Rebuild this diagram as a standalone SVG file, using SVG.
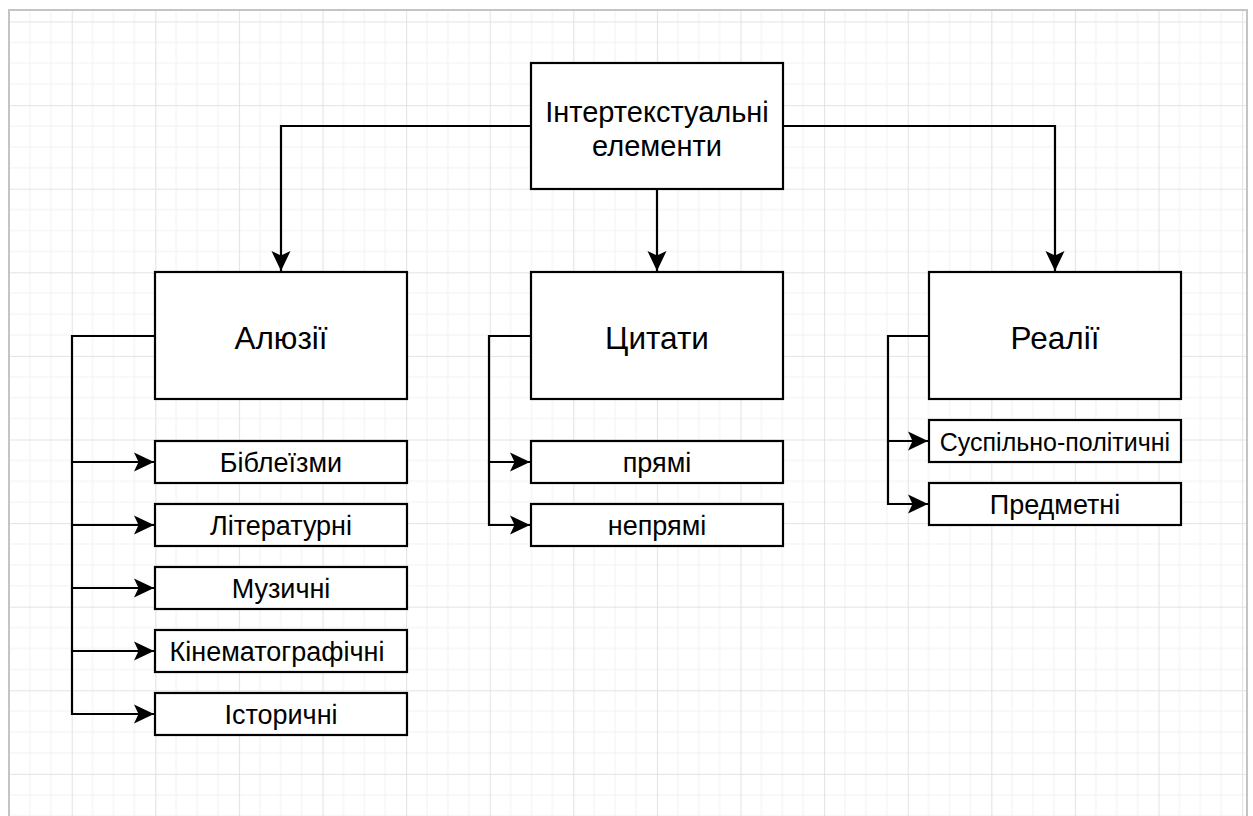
<svg xmlns="http://www.w3.org/2000/svg" width="1253" height="816" viewBox="0 0 1253 816">
<defs>
<pattern id="grid" patternUnits="userSpaceOnUse" x="71.7" y="21.5" width="83.6" height="83.6">
<path d="M20.9,0V83.6M41.8,0V83.6M62.7,0V83.6M0,20.9H83.6M0,41.8H83.6M0,62.7H83.6" stroke="#f2f2f2" stroke-width="1" fill="none"/>
<path d="M0.5,0V83.6M0,0.5H83.6" stroke="#e3e3e3" stroke-width="1.2" fill="none"/>
</pattern>
<marker id="arr" markerUnits="userSpaceOnUse" markerWidth="24" markerHeight="24" viewBox="-22 -12 24 24" refX="0" refY="0" orient="auto">
<path d="M0,0 L-20,-9.5 L-15.5,0 L-20,9.5 Z" fill="#000"/>
</marker>
<style>
.box{fill:#fff;stroke:#000;stroke-width:2.2}
.t{font-family:"Liberation Sans",Arial,sans-serif;fill:#000;text-anchor:middle;dominant-baseline:central}
.big{font-size:29px}
.mid{font-size:31.5px}
.sm{font-size:27px}
.c{fill:none;stroke:#000;stroke-width:2.2}
</style>
</defs>
<rect x="0" y="0" width="1253" height="816" fill="#fff"/>
<rect x="9" y="10" width="1238" height="810" fill="url(#grid)"/>
<rect x="9" y="10" width="1238" height="820" fill="none" stroke="#c4c4c4" stroke-width="2"/>

<g id="connectors">
<path class="c" d="M531,126H281V271" marker-end="url(#arr)"/>
<path class="c" d="M657,189V271" marker-end="url(#arr)"/>
<path class="c" d="M783,126H1055V271" marker-end="url(#arr)"/>
<path class="c" d="M155,336H72V462H154" marker-end="url(#arr)"/>
<path class="c" d="M72,462V525H154" marker-end="url(#arr)"/>
<path class="c" d="M72,525V588H154" marker-end="url(#arr)"/>
<path class="c" d="M72,588V651H154" marker-end="url(#arr)"/>
<path class="c" d="M72,651V714H154" marker-end="url(#arr)"/>
<path class="c" d="M531,336H489V462H530" marker-end="url(#arr)"/>
<path class="c" d="M489,462V525H530" marker-end="url(#arr)"/>
<path class="c" d="M929,336H888V441H928" marker-end="url(#arr)"/>
<path class="c" d="M888,441V504H928" marker-end="url(#arr)"/>
</g>

<g id="main"><rect class="box" x="531" y="63" width="252" height="126"/>
<text class="t big" x="657" y="112">Інтертекстуальні</text>
<text class="t big" x="657" y="146">елементи</text></g>

<g id="aliuzii"><rect class="box" x="155" y="272" width="252" height="127"/><text class="t mid" x="281" y="338">Алюзії</text></g>
<g id="tsytaty"><rect class="box" x="531" y="272" width="252" height="127"/><text class="t mid" x="657" y="338">Цитати</text></g>
<g id="realii"><rect class="box" x="929" y="272" width="252" height="127"/><text class="t mid" x="1055" y="338">Реалії</text></g>

<g id="bibl"><rect class="box" x="155" y="441" width="252" height="42"/><text class="t sm" x="281" y="463">Біблеїзми</text></g>
<g id="lit"><rect class="box" x="155" y="504" width="252" height="42"/><text class="t sm" x="281" y="526">Літературні</text></g>
<g id="muz"><rect class="box" x="155" y="567" width="252" height="42"/><text class="t sm" x="281" y="589">Музичні</text></g>
<g id="kino"><rect class="box" x="155" y="630" width="252" height="42"/><text class="t sm" x="277" y="652">Кінематографічні</text></g>
<g id="ist"><rect class="box" x="155" y="693" width="252" height="42"/><text class="t sm" x="281" y="715">Історичні</text></g>

<g id="priami"><rect class="box" x="531" y="441" width="252" height="42"/><text class="t sm" x="657" y="463">прямі</text></g>
<g id="nepriami"><rect class="box" x="531" y="504" width="252" height="42"/><text class="t sm" x="657" y="526">непрямі</text></g>

<g id="susp"><rect class="box" x="929" y="420" width="252" height="42"/><text class="t" style="font-size:25px" x="1055" y="442">Суспільно-політичні</text></g>
<g id="predm"><rect class="box" x="929" y="483" width="252" height="42"/><text class="t sm" x="1055" y="505">Предметні</text></g>
</svg>
